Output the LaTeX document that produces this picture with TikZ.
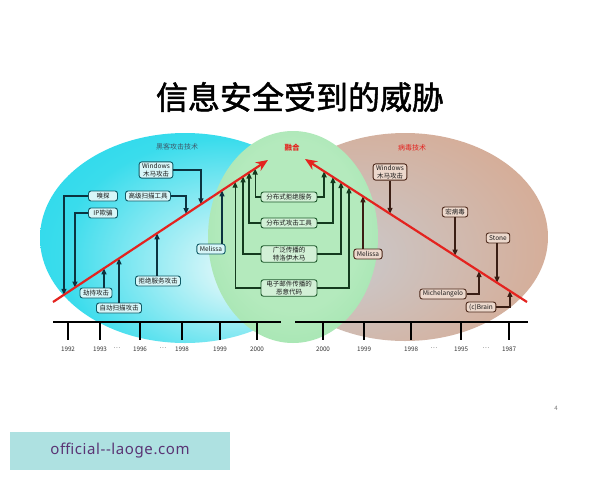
\documentclass[tikz,border=0pt]{standalone}
\usepackage{fontspec}
\setmainfont{Noto Sans CJK SC}
\newfontfamily\titlefont{Noto Sans CJK SC}[FakeBold=1.6]
\newfontfamily\wmfont{Noto Sans}[LetterSpace=4]
\usetikzlibrary{arrows.meta,calc}
\definecolor{hackout}{HTML}{00D2E8}
\definecolor{hackmid}{HTML}{3ADCEC}
\definecolor{hackin}{HTML}{D2F5F8}
\definecolor{hackline}{HTML}{0F5A66}
\definecolor{hackfill}{HTML}{D8F6F8}
\definecolor{hackdark}{HTML}{0B3340}
\definecolor{fuseout}{HTML}{7DD893}
\definecolor{fusein}{HTML}{B4EABD}
\definecolor{fuseline}{HTML}{1E5A2C}
\definecolor{fusefill}{HTML}{D2F0D6}
\definecolor{fusedark}{HTML}{143A1E}
\definecolor{virout}{HTML}{DA9E80}
\definecolor{virmid}{HTML}{D6AC96}
\definecolor{virin}{HTML}{CCC4C2}
\definecolor{virline}{HTML}{4A2618}
\definecolor{virfill}{HTML}{ECD8CC}
\definecolor{virdark}{HTML}{3A1E14}
\definecolor{trendred}{HTML}{E4231F}
\definecolor{hacktitle}{HTML}{3D5A6C}
\definecolor{wmfill}{HTML}{AEE1E1}
\definecolor{wmtext}{HTML}{5A3474}
\pgfdeclareradialshading{hackshade}{\pgfpoint{12bp}{-8bp}}{color(0bp)=(hackin); color(6bp)=(hackin); color(28bp)=(hackmid); color(62bp)=(hackout)}
\pgfdeclareradialshading{fuseshade}{\pgfpoint{0bp}{4bp}}{color(0bp)=(fusein); color(20bp)=(fusein); color(58bp)=(fuseout)}
\pgfdeclareradialshading{virusshade}{\pgfpoint{-14bp}{-6bp}}{color(0bp)=(virin); color(8bp)=(virin); color(34bp)=(virmid); color(66bp)=(virout)}

\begin{document}
\begin{tikzpicture}[x=1pt, y=-1pt,
      hbox/.style={draw=hackline, fill=hackfill, rounded corners=2.5pt, line width=0.9pt,
                   inner xsep=3pt, inner ysep=1.5pt, minimum height=10pt, align=center,
                   text=black!90, font=\fontsize{6.5}{7.5}\selectfont},
      mbox/.style={hbox, draw=fuseline, fill=fusefill, minimum width=56pt},
      vbox/.style={hbox, draw=virline, fill=virfill},
      hlink/.style={draw=hackdark, line width=1.2pt, -{Triangle[length=6pt,width=5pt]}},
      mlink/.style={hlink, draw=fusedark},
      vlink/.style={hlink, draw=virdark},
      trend/.style={draw=trendred, line width=2.2pt, -{Stealth[length=12pt,width=10pt]}},
      year/.style={font=\fontsize{6.3}{7}\selectfont, text=black!80},
      area/.style={font=\fontsize{7}{8}\selectfont}]
    \fill[white] (0,0) rectangle (600,480);
    \useasboundingbox (0,0) rectangle (600,480);

    \shade[shading=hackshade] (185,238) ellipse (145 and 105);
    \shade[shading=virusshade] (405,237) ellipse (143 and 104);
    \shade[shading=fuseshade] (293,237) ellipse (85 and 106);

    \node[font=\titlefont\fontsize{32}{36}\selectfont] (title) at (300,97) {信息安全受到的威胁};
    \node[area, text=hacktitle] (hacker) at (177,147) {黑客攻击技术};
    \node[area, text=trendred, font=\fontsize{7.5}{8}\selectfont\bfseries] (fusion) at (292,148) {融合};
    \node[area, text=trendred] (virus) at (412,148) {病毒技术};

    \coordinate (hl0) at (53,302);
    \coordinate (hl1) at (268,160);
    \coordinate (vr0) at (305,159);
    \coordinate (vr1) at (527,302);
    \foreach \n/\f in {sniff/0.051, ipspoof/0.102, hijack/0.237, autoscan/0.307, dos/0.484,
                       advscan/0.619, hwin/0.688, hmel/0.786, email/0.847, trojan/0.884,
                       tools/0.912, ddos/0.940}
      \coordinate (L-\n) at ($(hl0)!\f!(hl1)$);
    \foreach \n/\f in {ddos/0.086, tools/0.126, trojan/0.162, email/0.198, vmel/0.261,
                       vwin/0.383, macro/0.676, michel/0.784, stone/0.865, brain/0.923}
      \coordinate (R-\n) at ($(vr0)!\f!(vr1)$);

    \node[hbox] (hwin) at (156,170) {Windows\\木马攻击};
    \node[hbox, minimum width=29pt] (sniff) at (103,196) {嗅探};
    \node[hbox, minimum width=29pt] (ipspoof) at (103,213) {IP欺骗};
    \node[hbox] (advscan) at (148,196) {高级扫描工具};
    \node[hbox] (hmel) at (211,249) {Melissa};
    \node[hbox] (hijack) at (96,293) {劫持攻击};
    \node[hbox] (autoscan) at (119,308) {自动扫描攻击};
    \node[hbox] (dos) at (158,281) {拒绝服务攻击};

    \node[mbox] (ddos) at (289,197) {分布式拒绝服务};
    \node[mbox] (tools) at (289,223) {分布式攻击工具};
    \node[mbox] (trojan) at (289,254) {广泛传播的\\特洛伊木马};
    \node[mbox] (email) at (289,288) {电子邮件传播的\\恶意代码};

    \node[vbox] (vwin) at (390,172) {Windows\\木马攻击};
    \node[vbox] (macro) at (455,212) {宏病毒};
    \node[vbox] (stone) at (498,238) {Stone};
    \node[vbox] (michel) at (443,294) {Michelangelo};
    \node[vbox] (brain) at (481,307) {(c)Brain};
    \node[vbox] (vmel) at (368,254) {Melissa};

    \draw[hlink] (sniff.west) -| (L-sniff);
    \draw[hlink] (ipspoof.west) -| (L-ipspoof);
    \draw[hlink] (advscan.east) -| (L-advscan);
    \draw[hlink] (hwin.east) -| (L-hwin);
    \draw[hlink] (hijack.north -| L-hijack) -- (L-hijack);
    \draw[hlink] (autoscan.north -| L-autoscan) -- (L-autoscan);
    \draw[hlink] (dos.north -| L-dos) -- (L-dos);
    \draw[hlink] (hmel.north -| L-hmel) -- (L-hmel);
    \foreach \n in {ddos,tools,trojan,email} {
      \draw[mlink] (\n.west) -| (L-\n);
      \draw[mlink] (\n.east) -| (R-\n);
    }
    \draw[vlink] (vwin.south -| R-vwin) -- (R-vwin);
    \draw[vlink] (macro.south -| R-macro) -- (R-macro);
    \draw[vlink] (stone.south -| R-stone) -- (R-stone);
    \draw[vlink] (michel.east) -| (R-michel);
    \draw[vlink] (brain.east) -| (R-brain);
    \draw[vlink] (vmel.north -| R-vmel) -- (R-vmel);

    \draw[trend] (hl0) -- (hl1);
    \draw[trend] (vr1) -- (vr0);

    \draw[line width=1.6pt] (53,322) -- (281,322);
    \draw[line width=1.6pt] (295,322) -- (528,322);
    \foreach \x/\y in {68/1992, 100/1993, 140/1996, 182/1998, 220/1999, 257/2000,
                       323/2000, 364/1999, 411/1998, 461/1995, 509/1987} {
      \draw[line width=1.2pt] (\x,322) -- (\x,340);
      \node[year] at (\x,349) {\y};
    }
    \foreach \x in {117,163,434,486}
      \node[year] at (\x,348) {…};

    \node[font=\fontsize{6}{7}\selectfont, text=black!55] (page) at (556,408) {4};
    \node[fill=wmfill, minimum width=220pt, minimum height=38pt, text=wmtext,
          font=\wmfont\fontsize{15}{17}\selectfont] (wm) at (120,451) {official-{}-laoge.com};
  \end{tikzpicture}
\end{document}
